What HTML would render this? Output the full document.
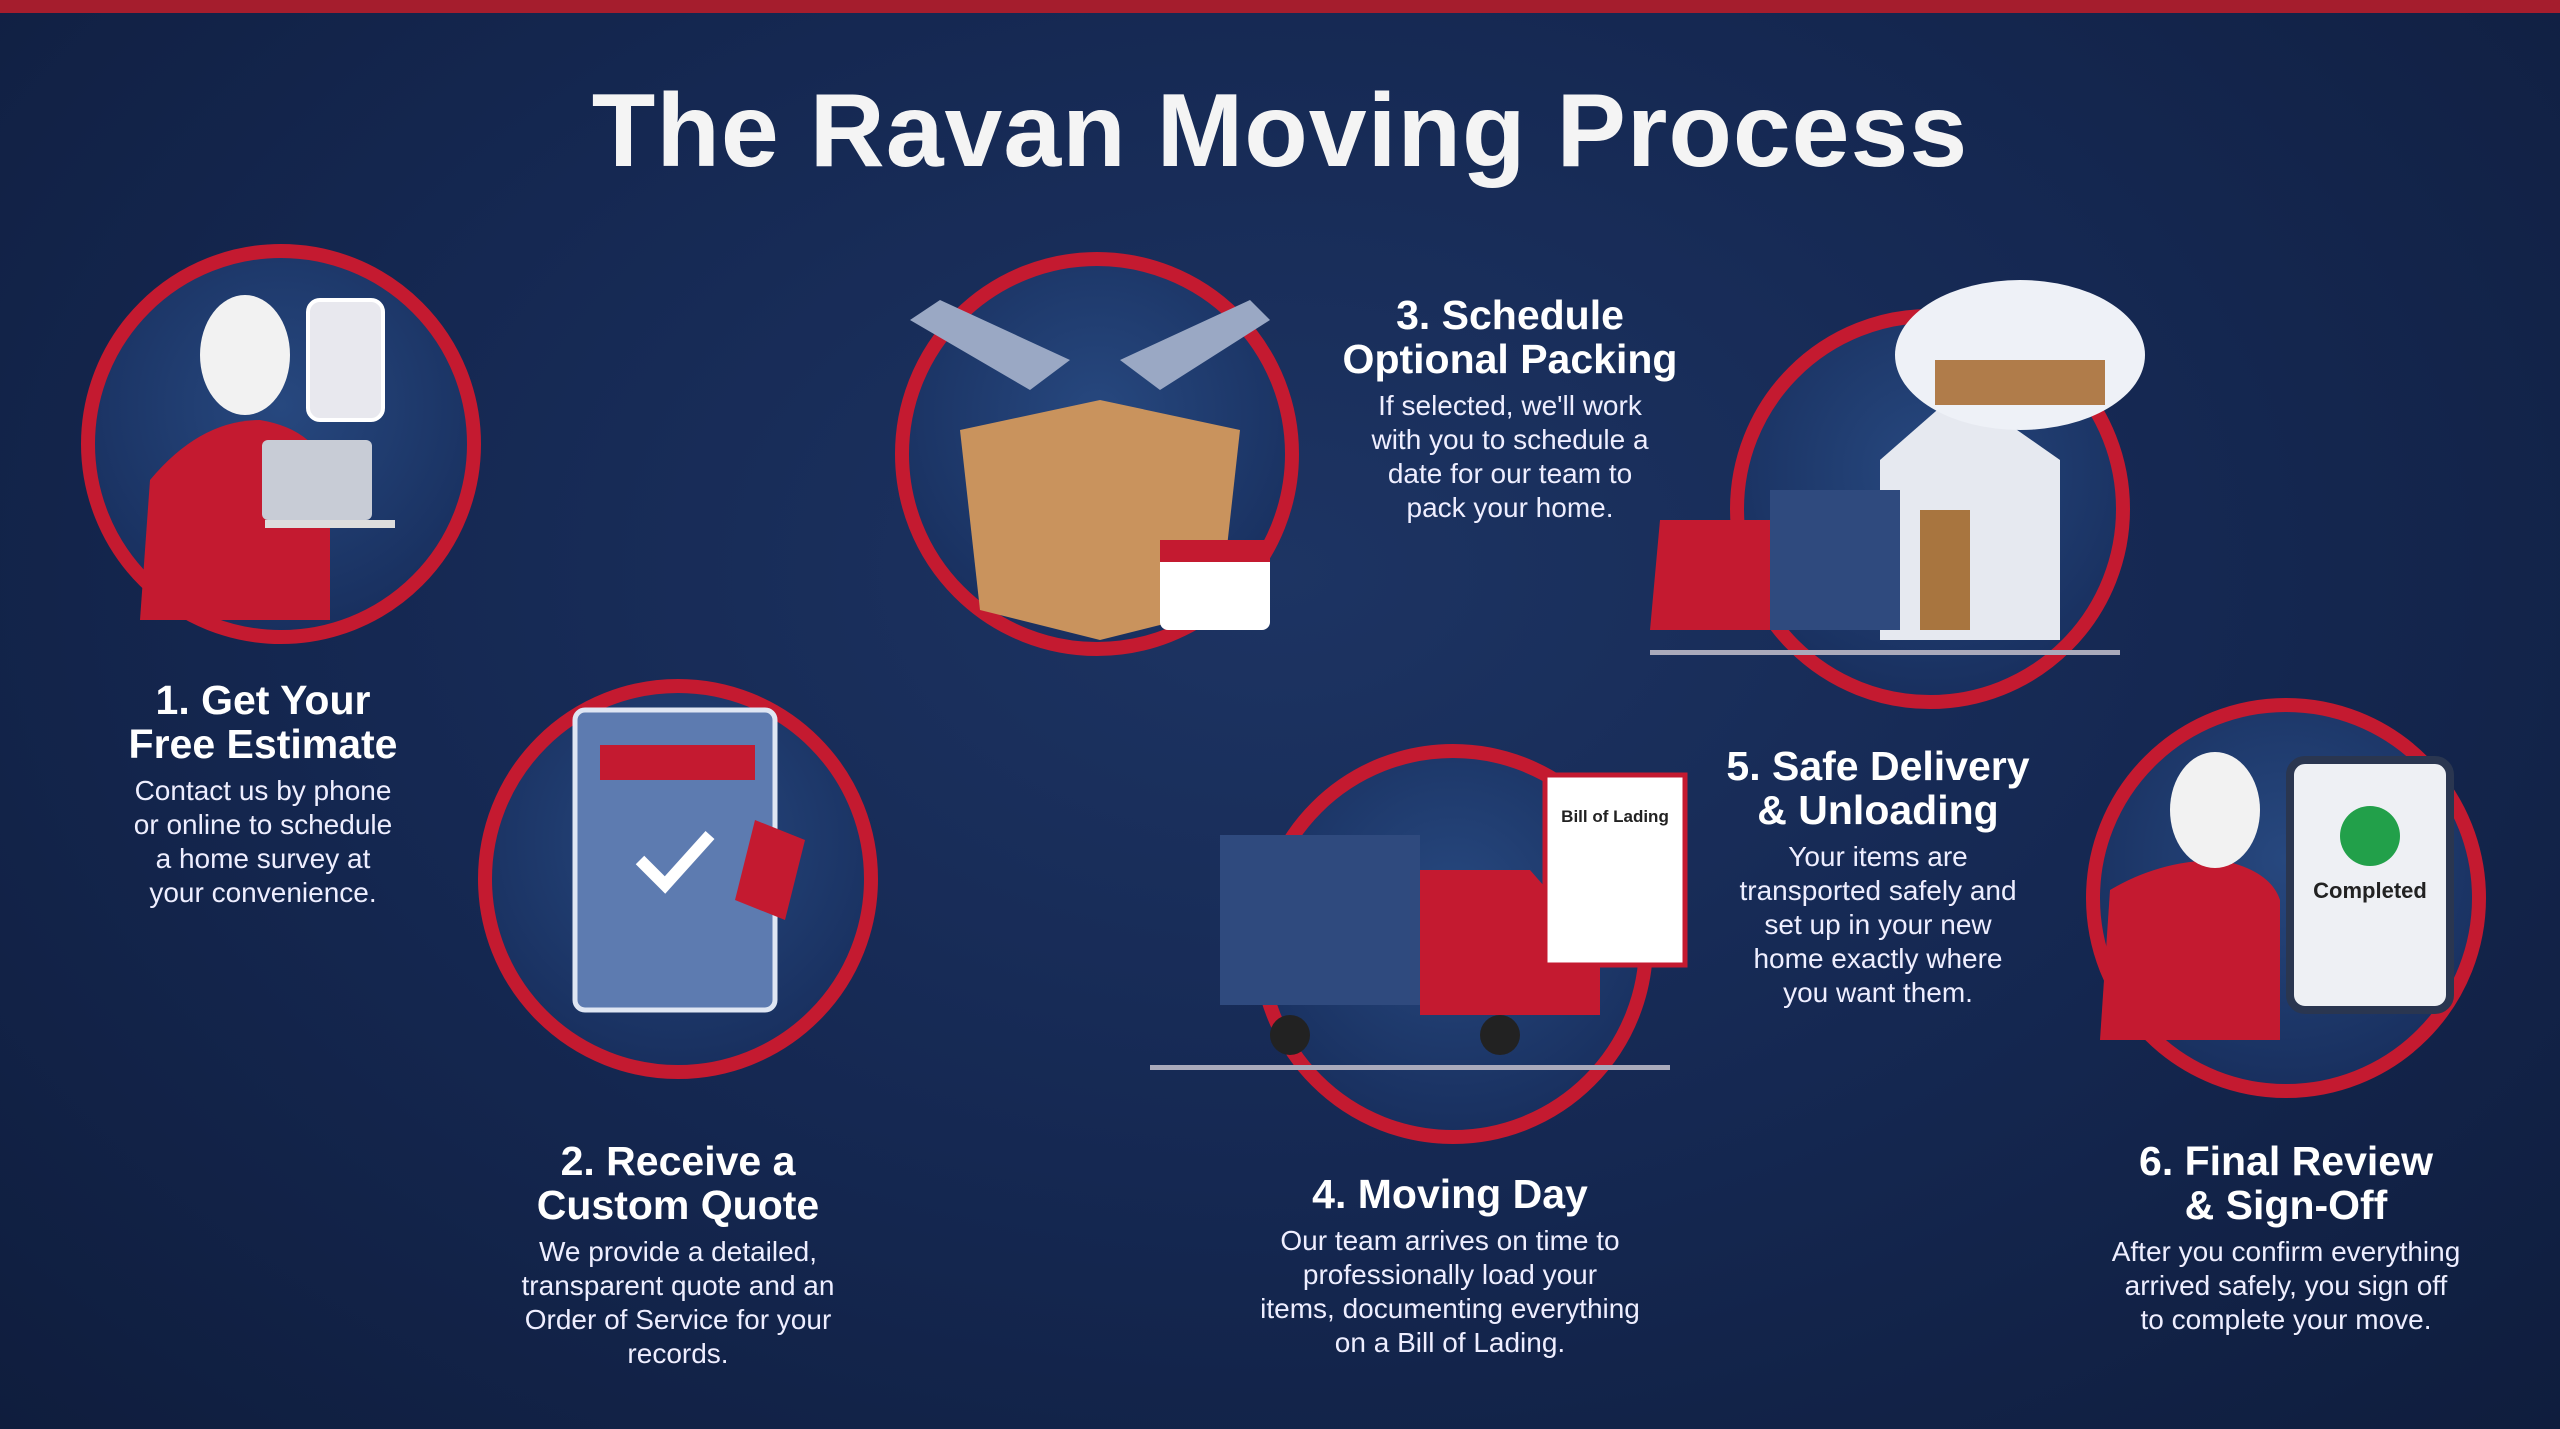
<!DOCTYPE html>
<html><head><meta charset="utf-8"><style>
html,body{margin:0;padding:0}
body{width:2560px;height:1429px;overflow:hidden;background:radial-gradient(ellipse at 50% 40%,#1d3463 0%,#152852 50%,#0f1d3d 100%);font-family:"Liberation Sans",sans-serif;color:#fff;position:relative}
.bar{position:absolute;left:0;top:0;width:2560px;height:13px;background:#a51d2d}
h1{position:absolute;left:0;width:2560px;top:72px;margin:0;text-align:center;font-size:104px;font-weight:bold;letter-spacing:1px;color:#f4f4f4}
.t{position:absolute;text-align:center;width:520px}
.t h2{margin:0;font-size:41px;line-height:44px;font-weight:bold}
.t p{margin:8px 0 0;font-size:28px;line-height:34px;color:#eef}
svg{position:absolute;left:0;top:0}
</style></head><body>
<div class="bar"></div>
<h1>The Ravan Moving Process</h1>
<svg width="2560" height="1429">
<defs><radialGradient id="g" cx="50%" cy="40%" r="60%"><stop offset="0" stop-color="#27487f"/><stop offset="1" stop-color="#182f5e"/></radialGradient></defs>
<g stroke="#c41a30" stroke-width="14" fill="url(#g)">
<circle cx="281" cy="444" r="193"/>
<circle cx="678" cy="879" r="193"/>
<circle cx="1097" cy="454" r="195"/>
<circle cx="1453" cy="944" r="193"/>
<circle cx="1930" cy="509" r="193"/>
<circle cx="2286" cy="898" r="193"/>
</g>
<!-- 1 person -->
<path d="M140 620 L150 480 Q200 420 260 420 Q320 430 330 480 L330 620 Z" fill="#c41a30"/>
<ellipse cx="245" cy="355" rx="45" ry="60" fill="#f2f2f2"/>
<rect x="308" y="300" width="75" height="120" rx="12" fill="#e8e8ee" stroke="#fff" stroke-width="4"/>
<rect x="262" y="440" width="110" height="80" rx="6" fill="#c8ccd6"/>
<rect x="265" y="520" width="130" height="8" fill="#ddd"/>
<!-- 2 doc -->
<rect x="575" y="710" width="200" height="300" rx="10" fill="#5d7bb0" stroke="#dfe6f3" stroke-width="5"/>
<rect x="600" y="745" width="155" height="35" fill="#c41a30"/>
<path d="M640 860 l25 25 l45 -50" stroke="#fff" stroke-width="12" fill="none"/>
<path d="M755 820 l50 20 l-20 80 l-50 -20 z" fill="#c41a30"/>
<!-- 3 box -->
<path d="M960 430 L1100 400 L1240 430 L1220 610 L1100 640 L980 610 Z" fill="#c9935d"/>
<rect x="1160" y="540" width="110" height="90" rx="8" fill="#fff"/>
<rect x="1160" y="540" width="110" height="22" fill="#c41a30"/>
<path d="M910 320 L1030 390 L1070 360 L940 300 Z M1270 320 L1160 390 L1120 360 L1250 300 Z" fill="#9aa8c4"/>
<!-- 4 truck -->
<rect x="1220" y="835" width="200" height="170" fill="#2f4a7e"/>
<path d="M1420 870 L1530 870 L1600 950 L1600 1015 L1420 1015 Z" fill="#c41a30"/>
<rect x="1545" y="775" width="140" height="190" fill="#fff" stroke="#c41a30" stroke-width="5"/>
<text x="1615" y="822" font-size="17" fill="#222" text-anchor="middle" font-weight="bold" font-family="Liberation Sans">Bill of Lading</text>
<rect x="1150" y="1065" width="520" height="5" fill="#aab"/>
<circle cx="1290" cy="1035" r="20" fill="#222"/><circle cx="1500" cy="1035" r="20" fill="#222"/>
<!-- 5 house/truck -->
<path d="M1880 460 L1960 390 L2060 460 L2060 640 L1880 640 Z" fill="#e6e9f0"/>
<rect x="1920" y="510" width="50" height="120" fill="#a8753f"/>
<rect x="1770" y="490" width="130" height="140" fill="#2f4a7e"/>
<path d="M1660 520 L1770 520 L1770 630 L1650 630 Z" fill="#c41a30"/>
<ellipse cx="2020" cy="355" rx="125" ry="75" fill="#eef1f7"/>
<rect x="1935" y="360" width="170" height="45" fill="#b07c4a"/>
<rect x="1650" y="650" width="470" height="5" fill="#aab"/>
<!-- 6 person -->
<path d="M2100 1040 L2110 890 Q2160 860 2220 860 Q2270 870 2280 900 L2280 1040 Z" fill="#c41a30"/>
<ellipse cx="2215" cy="810" rx="45" ry="58" fill="#f2f2f2"/>
<rect x="2290" y="760" width="160" height="250" rx="15" fill="#eef0f4" stroke="#2a3650" stroke-width="8"/>
<circle cx="2370" cy="836" r="30" fill="#22a04a"/>
<text x="2370" y="898" font-size="22" fill="#222" text-anchor="middle" font-weight="bold" font-family="Liberation Sans">Completed</text>
</svg>
<div class="t" style="left:3px;top:678px"><h2>1. Get Your<br>Free Estimate</h2><p>Contact us by phone<br>or online to schedule<br>a home survey at<br>your convenience.</p></div>
<div class="t" style="left:418px;top:1139px"><h2>2. Receive a<br>Custom Quote</h2><p>We provide a detailed,<br>transparent quote and an<br>Order of Service for your<br>records.</p></div>
<div class="t" style="left:1250px;top:293px"><h2>3. Schedule<br>Optional Packing</h2><p>If selected, we'll work<br>with you to schedule a<br>date for our team to<br>pack your home.</p></div>
<div class="t" style="left:1190px;top:1172px"><h2>4. Moving Day</h2><p>Our team arrives on time to<br>professionally load your<br>items, documenting everything<br>on a Bill of Lading.</p></div>
<div class="t" style="left:1618px;top:744px"><h2>5. Safe Delivery<br>&amp; Unloading</h2><p>Your items are<br>transported safely and<br>set up in your new<br>home exactly where<br>you want them.</p></div>
<div class="t" style="left:2026px;top:1139px"><h2>6. Final Review<br>&amp; Sign-Off</h2><p>After you confirm everything<br>arrived safely, you sign off<br>to complete your move.</p></div>
</body></html>
